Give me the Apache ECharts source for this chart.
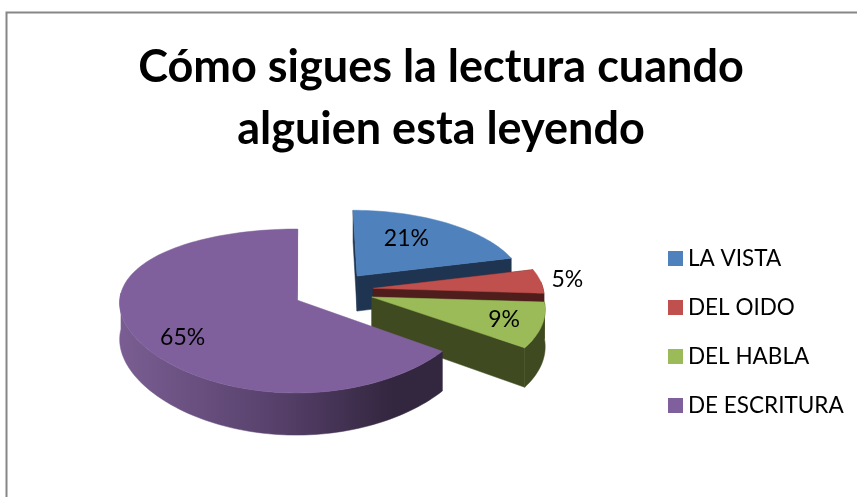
<!DOCTYPE html>
<html><head><meta charset="utf-8">
<style>html,body{margin:0;padding:0;background:#fff}#c{width:857px;height:497px}</style>
<script src="https://cdn.jsdelivr.net/npm/echarts@6/dist/echarts.min.js"></script>
</head><body><div id="c"></div>
<script>
const titleText = 'Cómo sigues la lectura cuando\nalguien esta leyendo';
const categories = ['LA VISTA', 'DEL OIDO', 'DEL HABLA', 'DE ESCRITURA'];
const values = [21, 5, 9, 65];
const topColors = ['#4F81BD', '#C0504D', '#9BBB59', '#7F609C'];
const wallColors = ['#1F3450', '#4F1E1C', '#3F4A20', '#5E4870'];
const explodeX = [0.218, 0.308, 0.297, -0.14];
const explodeY = [-0.31, -0.148, -0.037, 0];
const radiusX = [1, 1, 1, 1.03];
const lean = [0.13, 0.09, 0.12, 0.03];
const labelRadius = [0.6, 1.15, 0.79, 0.74];
const labelShift = [[-6, -4], [2, 0], [-1, 0], [4, 9]];

const OX = 321, OY = 300, SX = 172, AY = 80.5, KY = 0.134, DEPTH = 36.5;
const total = values.reduce((a, b) => a + b, 0);
const startFrac = values.map((_, i) => values.slice(0, i).reduce((a, b) => a + b, 0) / total);

function proj(X, Y, Z, kx) {
  const wy = 1 / (1 - KY * Y), wx = 1 / (1 - kx * Y);
  return [OX + X * SX * wx, OY + (AY * Y + DEPTH * Z) * wy];
}
function rim(i, t, r, Z) {
  return proj(explodeX[i] + r * radiusX[i] * Math.sin(t), explodeY[i] - r * Math.cos(t), Z, lean[i]);
}
function arcPts(i, a, b, Z) {
  const n = Math.max(2, Math.ceil(Math.abs(b - a) / 0.03)), out = [];
  for (let k = 0; k <= n; k++) out.push(rim(i, a + (b - a) * k / n, 1, Z));
  return out;
}
const purpleWall = {
  type: 'linear', x: 119, y: 0, x2: 441, y2: 0, global: true,
  colorStops: [{offset: 0, color: '#7A5E93'}, {offset: 0.5, color: '#56406A'}, {offset: 0.85, color: '#33263F'}, {offset: 1, color: '#33263F'}]
};
function renderSlice(i) {
  return function () {
    const a = startFrac[i] * 2 * Math.PI, b = a + values[i] / total * 2 * Math.PI;
    const kids = [];
    const poly = (points, fill) => kids.push({type: 'polygon', shape: {points}, style: {fill, stroke: fill, lineWidth: 0.5}});
    const wall = wallColors[i];
    const c0 = rim(i, 0, 0, 0), c1 = rim(i, 0, 0, 1);
    if (i !== 3) poly([c0, rim(i, a, 1, 0), rim(i, a, 1, 1), c1], wall);
    poly([c0, rim(i, b, 1, 0), rim(i, b, 1, 1), c1], wall);
    const lo = Math.max(a, 85 * Math.PI / 180), hi = Math.min(b, 275 * Math.PI / 180);
    if (hi > lo) {
      poly(arcPts(i, lo, hi, 0).concat(arcPts(i, hi, lo, 1)), i === 3 ? purpleWall : wall);
    }
    poly([c0].concat(arcPts(i, a, b, 0)), topColors[i]);
    const mid = (a + b) / 2, lp = rim(i, mid, labelRadius[i], 0);
    kids.push({type: 'text', x: lp[0] + labelShift[i][0], y: lp[1] + labelShift[i][1], z2: 10,
      style: {text: values[i] + '%', fill: '#000', font: '23px Lato', align: 'center', verticalAlign: 'middle'}});
    return {type: 'group', children: kids};
  };
}
const chart = echarts.init(document.getElementById('c'));
chart.setOption({
  animation: false,
  backgroundColor: '#fff',
  color: topColors,
  title: {text: titleText, left: 436, top: 31, textAlign: 'center',
    textStyle: {fontFamily: 'Lato', fontWeight: 'bold', fontSize: 45, lineHeight: 62, color: '#000'}},
  legend: {orient: 'vertical', left: 668, top: 247, padding: 0, itemWidth: 15, itemHeight: 15, itemGap: 26, icon: 'rect',
    data: categories, selectedMode: false,
    textStyle: {fontFamily: 'Lato', fontSize: 22.5, color: '#000'}},
  graphic: [{type: 'polyline', silent: true, shape: {points: [[6.5, 497], [6.5, 12.5], [857, 12.5]]},
    style: {stroke: '#868686', lineWidth: 2, fill: null}}],
  series: categories.map((name, i) => ({
    type: 'custom', name, coordinateSystem: 'none', silent: true,
    itemStyle: {color: topColors[i]},
    data: [values[i]], renderItem: renderSlice(i)
  }))
});
</script></body></html>
